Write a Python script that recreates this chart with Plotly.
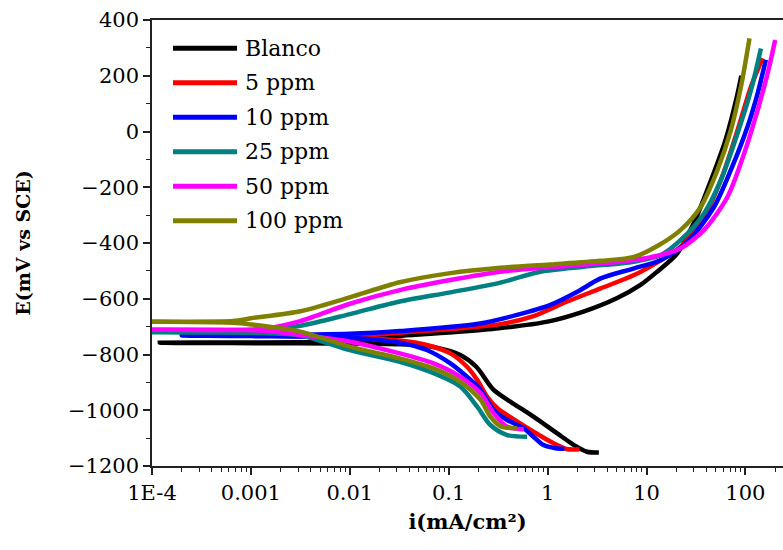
import plotly.graph_objects as go

# Polarization curves: current density i (mA/cm²) and potential E (mV vs SCE),
# each listed from the cathodic end, through E_corr, to the anodic end.
blanco_i = [3.3, 2.5, 1.85, 1.25, 0.72, 0.42, 0.285, 0.19, 0.131, 0.07, 0.04, 0.015, 0.003,
            0.0006, 0.00012, 0.0006, 0.003, 0.012, 0.024, 0.1, 0.32, 1.0, 2.3, 5.0, 8.7,
            12.3, 20.5, 31, 45, 63, 82, 91]
blanco_e = [-1152, -1149, -1125, -1083, -1023, -969, -927, -844, -802, -773, -764, -761, -760,
            -759, -758, -757, -756, -752, -737, -721, -706, -682, -646, -598, -550,
            -508, -437, -318, -174, -30, 125, 200]

ppm5_i = [2.1, 1.55, 1.16, 0.72, 0.42, 0.31, 0.244, 0.194, 0.153, 0.104, 0.06, 0.032, 0.012,
          0.005, 0.012, 0.032, 0.153, 0.333, 0.72, 1.58, 3.44, 7.5, 12.5, 22.2, 38.3, 56.5,
          83.4, 114, 149]
ppm5_e = [-1140, -1139, -1119, -1077, -1025, -993, -951, -891, -844, -796, -766, -750, -742,
          -738, -734, -722, -704, -691, -662, -610, -563, -515, -472, -413, -306, -174,
          5, 161, 263]

ppm10_i = [1.48, 1.2, 0.91, 0.72, 0.575, 0.39, 0.285, 0.21, 0.153, 0.104, 0.06, 0.032, 0.01,
           0.001, 0.0002, 0.001, 0.01, 0.032, 0.2, 0.49, 1.07, 2.0, 3.44, 7.5, 14, 26, 48.3,
           71.3, 105, 133, 161]
ppm10_e = [-1138, -1136, -1125, -1095, -1065, -1035, -999, -927, -880, -832, -784, -758, -740,
           -734, -732, -731, -726, -716, -690, -658, -622, -575, -527, -491, -461, -395, -270,
           -138, 17, 137, 257]

ppm25_i = [0.62, 0.39, 0.264, 0.194, 0.131, 0.0703, 0.032, 0.01, 0.00316, 0.001, 0.00009,
           0.001, 0.00316, 0.01, 0.032, 0.104, 0.333, 0.85, 2.33, 7.5, 14, 22.2, 38.3, 56.5,
           83.4, 114, 143.5]
ppm25_e = [-1095, -1089, -1053, -987, -915, -867, -826, -784, -732, -722, -720,
           -718, -697, -655, -610, -577, -542, -503, -485, -467, -443, -389, -293, -174,
           -6, 149, 298]

ppm50_i = [0.575, 0.39, 0.285, 0.21, 0.131, 0.0703, 0.032, 0.01, 0.00316, 0.0013, 0.00008,
           0.0013, 0.00316, 0.01, 0.032, 0.104, 0.333, 1.07, 3.44, 7.5, 14, 22.2, 38.3, 66,
           97.3, 133, 168, 200]
ppm50_e = [-1068, -1059, -1011, -939, -880, -832, -796, -754, -730, -714, -710,
           -708, -680, -618, -569, -533, -503, -487, -473, -461, -443, -419, -353, -234,
           -78, 77, 209, 328]

ppm100_i = [0.49, 0.333, 0.264, 0.21, 0.131, 0.0703, 0.032, 0.01, 0.00316, 0.001, 0.00066,
            0.00008, 0.00066, 0.001, 0.00316, 0.01, 0.032, 0.104, 0.333, 1.07, 3.44, 7.5, 13,
            22.2, 35.4, 52.2, 71.3, 90.2, 110]
ppm100_e = [-1065, -1057, -1023, -963, -898, -850, -814, -772, -718, -692, -686,
            -682, -680, -670, -645, -595, -541, -508, -489, -477, -464, -450, -410,
            -353, -270, -138, 5, 161, 334]

series_names = ["Blanco", "5 ppm", "10 ppm", "25 ppm", "50 ppm", "100 ppm"]
series_colors = ["#000000", "#ff0000", "#0000ff", "#008080", "#ff00ff", "#808000"]
series_i = [blanco_i, ppm5_i, ppm10_i, ppm25_i, ppm50_i, ppm100_i]
series_e = [blanco_e, ppm5_e, ppm10_e, ppm25_e, ppm50_e, ppm100_e]

x_tickvals = [1e-4, 1e-3, 1e-2, 1e-1, 1, 10, 100]
x_ticktext = ["1E-4", "0.001", "0.01", "0.1", "1", "10", "100"]
x_minor = [m * 10.0 ** d for d in range(-4, 3) for m in range(2, 10)]
y_tickvals = list(range(-1200, 401, 200))

W, H = 783, 550
ML, MT, MB = 152, 20, 84
PW, PH = W - ML, H - MT - MB
DECADE = 98.9

FONT = "DejaVu Serif"

fig = go.Figure()
for name, col, xi, ye in zip(series_names, series_colors, series_i, series_e):
    fig.add_trace(go.Scatter(
        x=xi, y=ye, mode="lines", name=name,
        line=dict(color=col, width=4.5, shape="spline", smoothing=0.8),
        showlegend=False, cliponaxis=True,
    ))

# hand-built legend (long line samples)
def px_x(px):
    return (px - ML) / PW

def px_y(py):
    return (MT + PH - py) / PH

legend_rows = [48.3, 82.8, 117.3, 151.8, 186.3, 220.8]
shapes, annotations = [], []
for name, col, ry in zip(series_names, series_colors, legend_rows):
    shapes.append(dict(type="line", xref="paper", yref="paper",
                       x0=px_x(173), x1=px_x(237), y0=px_y(ry), y1=px_y(ry),
                       line=dict(color=col, width=5)))
    annotations.append(dict(text=name, xref="paper", yref="paper",
                            x=px_x(243), y=px_y(ry), xanchor="left", yanchor="middle",
                            showarrow=False, font=dict(family=FONT, size=22, color="#000")))

fig.update_layout(
    width=W, height=H,
    margin=dict(l=ML, r=0, t=MT, b=MB),
    paper_bgcolor="white", plot_bgcolor="white",
    shapes=shapes, annotations=annotations,
    font=dict(family=FONT, color="#000"),
    xaxis=dict(
        type="log", range=[-4, -4 + PW / DECADE],
        tickvals=x_tickvals, ticktext=x_ticktext,
        ticks="outside", ticklen=7, tickwidth=1.5, tickcolor="#222",
        showline=True, linecolor="#222", linewidth=1.5, mirror=True,
        showgrid=False, zeroline=False,
        tickfont=dict(family=FONT, size=21, color="#000"),
        minor=dict(tickvals=x_minor, ticks="outside", ticklen=4, tickwidth=1.2,
                   tickcolor="#222", showgrid=False),
        title=dict(text="<b>i(mA/cm²)</b>", font=dict(family=FONT, size=21, color="#000"),
                   standoff=10),
    ),
    yaxis=dict(
        range=[-1200, 400], tickvals=y_tickvals,
        ticks="outside", ticklen=7, tickwidth=1.5, tickcolor="#222",
        showline=True, linecolor="#222", linewidth=1.5,
        showgrid=False, zeroline=False,
        tickfont=dict(family=FONT, size=21, color="#000"),
        minor=dict(dtick=100, ticks="outside", ticklen=4, tickwidth=1.2,
                   tickcolor="#222", showgrid=False),
        title=dict(text="<b>E(mV vs SCE)</b>", font=dict(family=FONT, size=19, color="#000"),
                   standoff=32),
    ),
)

fig.write_html("out.html")
